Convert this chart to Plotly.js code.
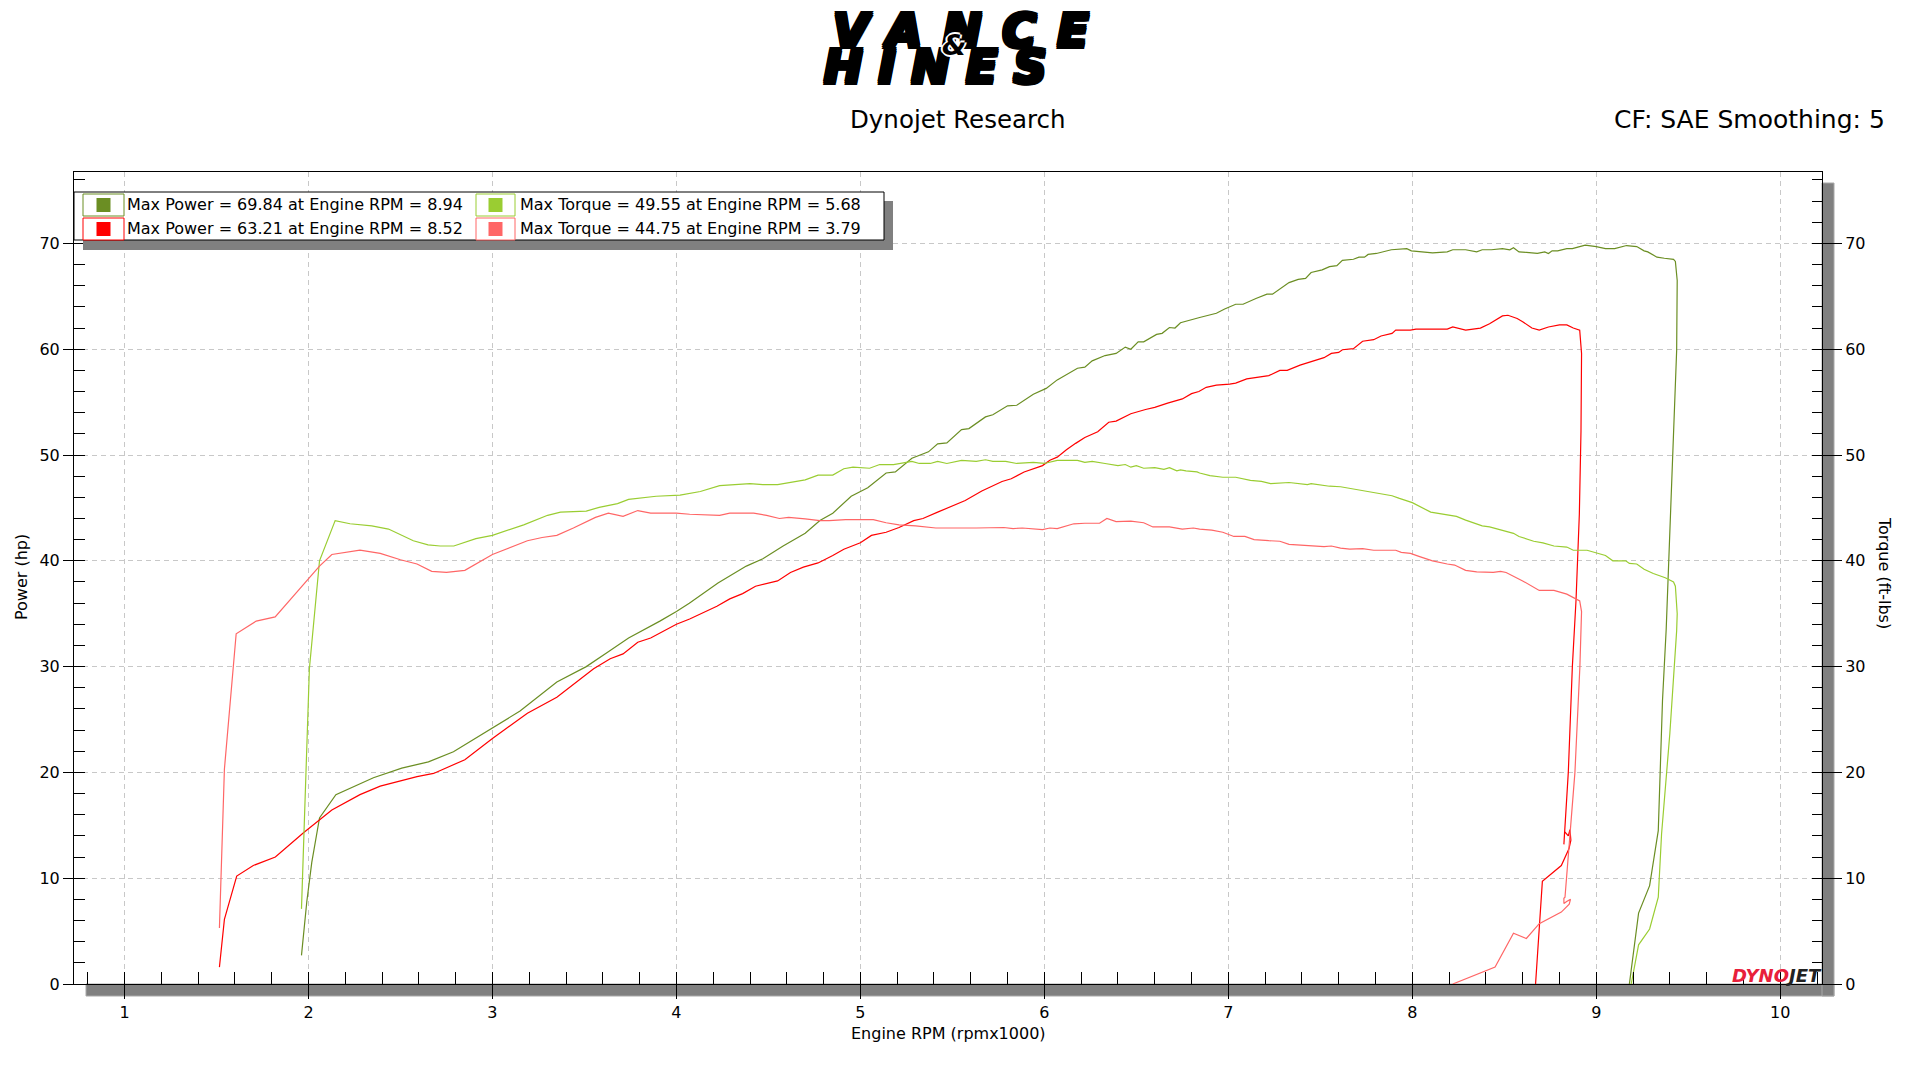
<!DOCTYPE html>
<html>
<head>
<meta charset="utf-8">
<script src="https://cdn.plot.ly/plotly-3.0.1.min.js"></script>
<style>
html,body{margin:0;padding:0;background:#fff;overflow:hidden;}
#chart{width:1917px;height:1078px;}
</style>
</head>
<body>
<div id="chart"></div>
<script>
// ---------------- DATA ----------------
// Run 1 (green) – Power (hp) vs Engine RPM (x1000)
const run1PowerRpm = [1.962,1.991,2.018,2.06,2.149,2.263,2.353,2.507,2.652,2.788,2.933,3.0,3.15,3.35,3.51,3.63,3.74,3.91,4.0,4.07,4.226,4.38,4.47,4.58,4.70,4.78,4.85,4.95,5.04,5.14,5.19,5.28,5.37,5.42,5.47,5.55,5.59,5.68,5.72,5.80,5.85,5.94,6.01,6.07,6.18,6.22,6.26,6.33,6.39,6.44,6.47,6.51,6.54,6.61,6.64,6.68,6.71,6.74,6.82,6.844,6.935,6.98,7.04,7.08,7.15,7.21,7.24,7.33,7.38,7.42,7.45,7.51,7.55,7.59,7.62,7.68,7.71,7.74,7.76,7.805,7.886,7.97,7.995,8.05,8.11,8.19,8.22,8.29,8.35,8.38,8.43,8.49,8.53,8.55,8.58,8.62,8.68,8.72,8.74,8.76,8.79,8.84,8.87,8.91,8.94,9.00,9.05,9.10,9.165,9.22,9.26,9.28,9.33,9.37,9.42,9.43,9.44,9.437,9.419,9.395,9.38,9.36,9.34,9.337,9.29,9.23,9.18];
const run1PowerHp = [2.7,7.8,11.5,15.7,17.9,18.8,19.5,20.4,21.0,21.95,23.5,24.15,25.8,28.55,30.0,31.4,32.7,34.3,35.2,36.0,37.9,39.5,40.2,41.4,42.6,43.8,44.5,46.1,46.9,48.3,48.4,49.7,50.3,51.05,51.15,52.4,52.5,53.6,53.8,54.65,54.7,55.75,56.3,57.1,58.2,58.3,58.9,59.4,59.6,60.2,60.0,60.7,60.7,61.4,61.5,62.05,62.0,62.5,62.9,63.0,63.4,63.8,64.25,64.25,64.8,65.2,65.2,66.3,66.6,66.7,67.25,67.5,67.8,67.9,68.4,68.5,68.7,68.7,68.96,69.05,69.4,69.5,69.3,69.2,69.1,69.2,69.4,69.4,69.2,69.4,69.4,69.5,69.4,69.6,69.2,69.15,69.05,69.2,69.05,69.3,69.3,69.5,69.5,69.7,69.84,69.7,69.5,69.5,69.8,69.7,69.3,69.2,68.7,68.6,68.5,68.3,66.5,59.9,51.05,39.7,33.5,26.8,16.7,14.5,9.3,6.7,0];

// Run 1 (green) – Torque (ft-lbs)
const run1TorqueRpm = [1.962,1.987,2.005,2.06,2.145,2.226,2.344,2.435,2.57,2.65,2.716,2.79,2.91,3.0,3.17,3.30,3.37,3.51,3.58,3.68,3.74,3.89,4.02,4.13,4.235,4.40,4.47,4.55,4.70,4.77,4.85,4.91,4.96,5.05,5.105,5.18,5.28,5.32,5.38,5.42,5.47,5.55,5.63,5.68,5.72,5.79,5.85,5.94,6.0,6.07,6.18,6.22,6.26,6.33,6.40,6.44,6.47,6.50,6.54,6.60,6.65,6.68,6.72,6.74,6.77,6.83,6.844,6.90,6.97,7.04,7.12,7.18,7.23,7.33,7.39,7.43,7.45,7.55,7.61,7.68,7.73,7.89,7.93,8.00,8.10,8.19,8.24,8.29,8.33,8.38,8.42,8.50,8.55,8.58,8.66,8.71,8.77,8.84,8.875,8.95,8.99,9.05,9.09,9.16,9.18,9.22,9.26,9.31,9.375,9.42,9.43,9.44,9.437,9.40,9.355,9.337,9.29,9.23,9.19];
const run1TorqueFtlb = [7.1,21.4,29.8,40.0,43.8,43.5,43.3,43.0,41.9,41.5,41.4,41.4,42.1,42.4,43.4,44.3,44.6,44.7,45.05,45.4,45.8,46.1,46.2,46.55,47.1,47.3,47.2,47.2,47.65,48.1,48.1,48.7,48.85,48.75,49.1,49.1,49.4,49.2,49.2,49.4,49.2,49.5,49.4,49.55,49.4,49.4,49.2,49.3,49.2,49.5,49.5,49.3,49.4,49.2,49.0,49.1,48.85,49.0,48.75,48.8,48.65,48.8,48.5,48.6,48.5,48.4,48.3,48.05,47.9,47.9,47.6,47.5,47.3,47.4,47.3,47.2,47.3,47.05,47.0,46.8,46.6,46.15,45.9,45.5,44.6,44.3,44.2,43.85,43.6,43.3,43.2,42.85,42.6,42.3,41.85,41.7,41.4,41.3,41.0,41.0,40.8,40.5,40.0,40.0,39.75,39.7,39.2,38.8,38.4,38.0,37.6,35.0,33.4,23.7,14.2,8.2,5.2,3.7,0];

// Run 2 (red) – Power (hp)
const run2PowerRpm = [1.516,1.543,1.61,1.70,1.82,1.973,2.127,2.28,2.39,2.507,2.59,2.68,2.77,2.85,3.0,3.19,3.35,3.55,3.64,3.71,3.79,3.86,4.0,4.072,4.22,4.29,4.36,4.43,4.55,4.62,4.69,4.77,4.85,4.91,5.0,5.06,5.14,5.21,5.29,5.34,5.42,5.49,5.57,5.66,5.77,5.82,5.89,5.99,6.03,6.07,6.12,6.17,6.22,6.29,6.35,6.39,6.47,6.55,6.60,6.67,6.75,6.80,6.84,6.88,6.935,7.007,7.04,7.10,7.14,7.22,7.28,7.32,7.39,7.45,7.52,7.56,7.60,7.62,7.68,7.73,7.79,7.83,7.89,7.91,7.99,8.02,8.10,8.19,8.22,8.29,8.37,8.42,8.49,8.52,8.57,8.60,8.65,8.69,8.74,8.80,8.84,8.875,8.91,8.92,8.917,8.908,8.89,8.87,8.848,8.824,8.828,8.848,8.857,8.862,8.852,8.81,8.707,8.67];
const run2PowerHp = [1.6,6.1,10.2,11.2,12.0,14.3,16.45,17.9,18.7,19.2,19.6,19.9,20.6,21.2,23.2,25.6,27.1,29.8,30.75,31.2,32.3,32.7,34.0,34.5,35.7,36.4,36.9,37.6,38.1,38.9,39.4,39.8,40.5,41.1,41.7,42.4,42.7,43.15,43.8,44.0,44.6,45.1,45.7,46.6,47.5,47.75,48.4,49.0,49.5,49.8,50.5,51.1,51.65,52.2,53.1,53.2,53.9,54.3,54.5,54.9,55.3,55.8,56.0,56.4,56.6,56.7,56.8,57.2,57.3,57.5,58.0,58.0,58.5,58.85,59.2,59.6,59.7,59.95,60.05,60.75,60.9,61.25,61.5,61.8,61.8,61.9,61.9,61.9,62.1,61.8,62.0,62.4,63.15,63.21,62.9,62.6,62.0,61.8,62.1,62.3,62.3,62.0,61.8,59.6,52.3,44.4,36.3,30.0,20.0,13.2,14.4,14.0,14.6,13.6,12.8,11.2,9.7,0];

// Run 2 (red) – Torque (ft-lbs)
const run2TorqueRpm = [1.516,1.543,1.607,1.716,1.819,2.0,2.06,2.127,2.28,2.39,2.50,2.59,2.67,2.75,2.85,3.0,3.19,3.27,3.35,3.44,3.56,3.63,3.71,3.79,3.86,4.0,4.072,4.235,4.29,4.42,4.49,4.56,4.61,4.70,4.78,4.83,4.92,5.0,5.07,5.14,5.21,5.30,5.41,5.63,5.78,5.83,5.88,5.99,6.03,6.07,6.16,6.22,6.30,6.34,6.39,6.47,6.54,6.59,6.68,6.75,6.81,6.844,6.91,6.97,7.03,7.09,7.14,7.22,7.28,7.33,7.39,7.52,7.56,7.61,7.66,7.73,7.79,7.91,7.94,7.99,8.04,8.11,8.19,8.23,8.29,8.35,8.44,8.48,8.51,8.60,8.69,8.77,8.84,8.89,8.91,8.92,8.911,8.884,8.856,8.84,8.83,8.824,8.824,8.839,8.86,8.853,8.81,8.69,8.62,8.55,8.45,8.22];
const run2TorqueFtlb = [5.3,20.3,33.1,34.3,34.7,38.3,39.5,40.6,41.0,40.7,40.1,39.7,39.0,38.9,39.1,40.6,41.9,42.2,42.4,43.1,44.1,44.5,44.2,44.75,44.5,44.5,44.4,44.3,44.5,44.5,44.3,44.0,44.1,43.97,43.8,43.8,43.9,43.9,43.9,43.6,43.4,43.3,43.1,43.1,43.15,43.05,43.1,42.95,43.1,43.05,43.5,43.55,43.55,44.0,43.7,43.75,43.6,43.2,43.2,43.0,43.1,43.0,42.9,42.7,42.3,42.3,42.0,41.9,41.85,41.55,41.5,41.35,41.4,41.2,41.1,41.15,41.0,41.0,40.8,40.7,40.4,40.0,39.7,39.6,39.1,38.95,38.9,39.0,38.9,38.1,37.2,37.2,36.85,36.4,36.2,35.2,30.0,20.0,13.6,10.0,8.2,8.1,7.6,7.8,8.0,7.55,6.8,5.7,4.3,4.8,1.6,0];

const legendLabels = [
  'Max Power = 69.84 at Engine RPM = 8.94',
  'Max Power = 63.21 at Engine RPM = 8.52',
  'Max Torque = 49.55 at Engine RPM = 5.68',
  'Max Torque = 44.75 at Engine RPM = 3.79'
];
const seriesColors = ['#6B8E23', '#FF0000', '#9ACD32', '#FF6666'];
const xTitle = 'Engine RPM (rpmx1000)';
const yTitleLeft = 'Power (hp)';
const yTitleRight = 'Torque (ft-lbs)';
const headerTitle = 'Dynojet Research';
const headerRight = 'CF: SAE Smoothing: 5';
const logoTop = 'VANCE';
const logoAmp = '&';
const logoBottom = 'HINES';

// ---------------- LAYOUT GEOMETRY ----------------
const FIG_W = 1917, FIG_H = 1078;
const L = 74, R = 1822, T = 172, B = 984;
const W = R - L, H = B - T;
const px = X => (X - L) / W;
const py = Y => (B - Y) / H;
const FONT = 'DejaVu Sans, Verdana, sans-serif';

const xRange = [0.7255, 10.227];
const yRange = [0, 76.75];

const traces = [
  {x: run1PowerRpm, y: run1PowerHp, type: 'scatter', mode: 'lines', line: {color: seriesColors[0], width: 1.2}, xaxis: 'x', yaxis: 'y'},
  {x: run2PowerRpm, y: run2PowerHp, type: 'scatter', mode: 'lines', line: {color: seriesColors[1], width: 1.2}, xaxis: 'x', yaxis: 'y'},
  {x: run1TorqueRpm, y: run1TorqueFtlb, type: 'scatter', mode: 'lines', line: {color: seriesColors[2], width: 1.2}, xaxis: 'x', yaxis: 'y2'},
  {x: run2TorqueRpm, y: run2TorqueFtlb, type: 'scatter', mode: 'lines', line: {color: seriesColors[3], width: 1.2}, xaxis: 'x', yaxis: 'y2'},
  {x: [], y: [], type: 'scatter', mode: 'lines', xaxis: 'x', yaxis: 'y3'}
];

const tickFont = {family: FONT, size: 16, color: '#000'};

const shapes = [];
const annotations = [];

// shadows of plot frame
shapes.push({type: 'rect', xref: 'paper', yref: 'paper', layer: 'below',
  x0: px(86), x1: px(1834), y0: py(996), y1: py(B), fillcolor: '#808080', line: {width: 1, color: '#a8a8a8'}});
shapes.push({type: 'rect', xref: 'paper', yref: 'paper', layer: 'below',
  x0: px(R), x1: px(1834), y0: py(996), y1: py(183), fillcolor: '#808080', line: {width: 1, color: '#a8a8a8'}});

// legend box
shapes.push({type: 'rect', xref: 'paper', yref: 'paper', x0: px(83), x1: px(893), y0: py(250), y1: py(201),
  fillcolor: '#808080', line: {width: 0}});
shapes.push({type: 'rect', xref: 'paper', yref: 'paper', x0: px(74), x1: px(884), y0: py(240), y1: py(192),
  fillcolor: '#ffffff', line: {width: 1, color: '#000'}});

const colX = [[83, 124], [476, 515]];
const rowY = [[194, 216], [218, 240]];
const textX = [126, 518.5];
const order = [[0, 0], [1, 0], [0, 1], [1, 1]]; // [row, col] for each legend entry
legendLabels.forEach((lab, i) => {
  const [r, c] = order[i];
  const [x0, x1] = colX[c];
  const [y0, y1] = rowY[r];
  shapes.push({type: 'rect', xref: 'paper', yref: 'paper', x0: px(x0), x1: px(x1), y0: py(y1), y1: py(y0),
    fillcolor: '#ffffff', line: {width: 1, color: seriesColors[i]}});
  const cx = (x0 + x1) / 2, cy = (y0 + y1) / 2;
  shapes.push({type: 'rect', xref: 'paper', yref: 'paper', x0: px(cx - 7), x1: px(cx + 7), y0: py(cy + 7), y1: py(cy - 7),
    fillcolor: seriesColors[i], line: {width: 0}});
  annotations.push({xref: 'paper', yref: 'paper', x: px(textX[c]), y: py(cy - 0.5), xanchor: 'left', yanchor: 'middle',
    text: lab, showarrow: false, font: {family: FONT, size: 16, color: '#000'}, borderpad: 0});
});

// header
annotations.push({xref: 'paper', yref: 'paper', x: px(958), y: py(120), xanchor: 'center', yanchor: 'middle',
  text: headerTitle, showarrow: false, font: {family: FONT, size: 24.5, color: '#000'}});
annotations.push({xref: 'paper', yref: 'paper', x: px(1887), y: py(120), xanchor: 'right', yanchor: 'middle',
  text: headerRight, showarrow: false, font: {family: FONT, size: 25, color: '#000'}});

// logo (text)
const logoShadow = '2px 0 0 #000, -2px 0 0 #000, 0 2px 0 #000, 0 -2px 0 #000, 2px 2px 0 #000, -2px -2px 0 #000, 2px -2px 0 #000, -2px 2px 0 #000';
annotations.push({xref: 'paper', yref: 'paper', x: px(972), y: py(31), xanchor: 'center', yanchor: 'middle',
  text: '<span style="letter-spacing:21px">' + logoTop + '</span>', showarrow: false, borderpad: 0,
  font: {family: FONT, size: 46, color: '#000', weight: 'bold', style: 'italic', shadow: logoShadow}});
annotations.push({xref: 'paper', yref: 'paper', x: px(943), y: py(67), xanchor: 'center', yanchor: 'middle',
  text: '<span style="letter-spacing:16px">' + logoBottom + '</span>', showarrow: false, borderpad: 0,
  font: {family: FONT, size: 46, color: '#000', weight: 'bold', style: 'italic', shadow: logoShadow}});
annotations.push({xref: 'paper', yref: 'paper', x: px(954), y: py(45), xanchor: 'center', yanchor: 'middle',
  text: logoAmp, showarrow: false, borderpad: 0,
  font: {family: FONT, size: 28, color: '#000', weight: 'bold', style: 'italic',
         shadow: '2px 0 0 #fff, -2px 0 0 #fff, 0 2px 0 #fff, 0 -2px 0 #fff'}});

// axis titles
annotations.push({xref: 'paper', yref: 'paper', x: px(948), y: py(1033), xanchor: 'center', yanchor: 'middle',
  text: xTitle, showarrow: false, font: {family: FONT, size: 16, color: '#000'}});
annotations.push({xref: 'paper', yref: 'paper', x: px(21), y: py(577), xanchor: 'center', yanchor: 'middle',
  text: yTitleLeft, textangle: -90, showarrow: false, font: {family: FONT, size: 16, color: '#000'}});
annotations.push({xref: 'paper', yref: 'paper', x: px(1885), y: py(573), xanchor: 'center', yanchor: 'middle',
  text: yTitleRight, textangle: 90, showarrow: false, font: {family: FONT, size: 16, color: '#000'}});

// Dynojet mark
annotations.push({xref: 'paper', yref: 'paper', x: px(1823), y: py(984), xanchor: 'right', yanchor: 'bottom',
  text: '<b><i><span style="color:#E8203A">DYNO</span><span style="color:#222222">JET</span></i></b>',
  showarrow: false, font: {family: FONT, size: 18}, borderpad: 0, yshift: -3});

const layout = {
  width: FIG_W, height: FIG_H, autosize: false,
  margin: {l: L, r: FIG_W - R, t: T, b: FIG_H - B, pad: 0},
  paper_bgcolor: '#ffffff', plot_bgcolor: '#ffffff',
  showlegend: false, hovermode: false,
  font: {family: FONT, size: 16, color: '#000'},
  xaxis: {
    range: xRange, showline: true, linecolor: '#000', linewidth: 1, mirror: true,
    ticks: 'outside', ticklen: 14, tickwidth: 1, tickcolor: '#000', tick0: 0, dtick: 1,
    tickfont: tickFont, showgrid: true, gridcolor: '#c8c8c8', griddash: '5px,4px', gridwidth: 1,
    zeroline: false, fixedrange: true,
    minor: {tick0: 0, dtick: 0.2, ticks: 'inside', ticklen: 12, tickwidth: 1, tickcolor: '#000', showgrid: false}
  },
  yaxis: {
    range: yRange, showline: true, linecolor: '#000', linewidth: 1,
    ticks: 'outside', ticklen: 10, tickwidth: 1, tickcolor: '#000', tick0: 0, dtick: 10,
    tickfont: tickFont, showgrid: true, gridcolor: '#c8c8c8', griddash: '5px,4px', gridwidth: 1,
    zeroline: false, fixedrange: true,
    minor: {tick0: 0, dtick: 2, ticks: 'inside', ticklen: 11, tickwidth: 1, tickcolor: '#000', showgrid: false}
  },
  yaxis2: {
    range: yRange, overlaying: 'y', side: 'right', anchor: 'x', showline: true, linecolor: '#000', linewidth: 1,
    ticks: 'outside', ticklen: 19, tickwidth: 1, tickcolor: '#000', tick0: 0, dtick: 10,
    tickfont: tickFont, showgrid: false, zeroline: false, fixedrange: true,
    minor: {tick0: 0, dtick: 2, ticks: 'inside', ticklen: 10, tickwidth: 1, tickcolor: '#000', showgrid: false}
  },
  yaxis3: {
    range: yRange, overlaying: 'y', side: 'right', anchor: 'x', showline: false,
    ticks: 'inside', ticklen: 10, tickwidth: 1, tickcolor: '#000', tick0: 0, dtick: 10,
    showticklabels: false, showgrid: false, zeroline: false, fixedrange: true
  },
  shapes: shapes,
  annotations: annotations
};

Plotly.newPlot('chart', traces, layout, {staticPlot: true, displayModeBar: false});
</script>
</body>
</html>
